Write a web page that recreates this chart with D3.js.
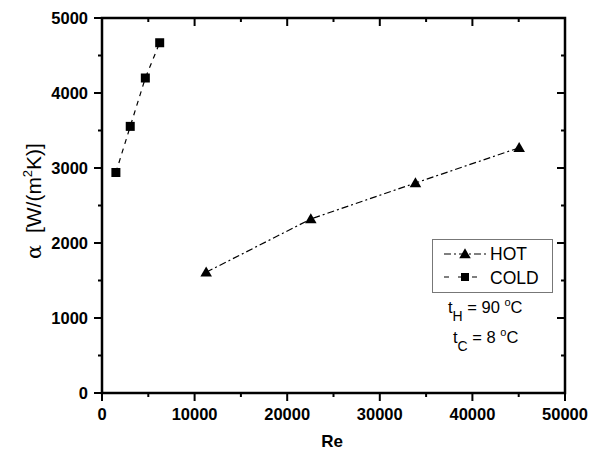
<!DOCTYPE html>
<html>
<head>
<meta charset="utf-8">
<script src="https://cdn.jsdelivr.net/npm/d3@7"></script>
<style>
  body { margin: 0; background: #fff; }
  text { font-family: Arial, "Liberation Sans", sans-serif; }
  .num { font-family: "Liberation Sans Narrow", "Arial Narrow", sans-serif; font-weight: bold; }
</style>
</head>
<body>
<div id="chart"></div>
<script>
// data
var hotRe = [11250, 22550, 33850, 45050];
var hotAlpha = [1610, 2320, 2800, 3270];
var coldRe = [1500, 3050, 4680, 6230];
var coldAlpha = [2940, 3555, 4200, 4670];
var xTicks = [0, 10000, 20000, 30000, 40000, 50000];
var yTicks = [0, 1000, 2000, 3000, 4000, 5000];

var W = 591, H = 454;
var m = { left: 102, right: 26, top: 18, bottom: 61 };

var svg = d3.select("#chart").append("svg").attr("width", W).attr("height", H);

var x = d3.scaleLinear().domain([0, 50000]).range([m.left, W - m.right]);
var y = d3.scaleLinear().domain([0, 5000]).range([H - m.bottom, m.top]);

var minorX = d3.range(0, 50001, 5000).filter(v => v % 10000 !== 0);
var minorY = d3.range(0, 5001, 500).filter(v => v % 1000 !== 0);

// ticks: bottom/left outward, top/right inward
var g = svg.append("g").attr("stroke", "#000").attr("stroke-width", 2);
xTicks.forEach(v => {
    g.append("line").attr("x1", x(v)).attr("x2", x(v)).attr("y1", y(0)).attr("y2", y(0) + 8);
    g.append("line").attr("x1", x(v)).attr("x2", x(v)).attr("y1", y(5000)).attr("y2", y(5000) + 8);
});
minorX.forEach(v => {
    g.append("line").attr("x1", x(v)).attr("x2", x(v)).attr("y1", y(0)).attr("y2", y(0) + 4);
    g.append("line").attr("x1", x(v)).attr("x2", x(v)).attr("y1", y(5000)).attr("y2", y(5000) + 4);
});
yTicks.forEach(v => {
    g.append("line").attr("y1", y(v)).attr("y2", y(v)).attr("x1", x(0)).attr("x2", x(0) - 8);
    g.append("line").attr("y1", y(v)).attr("y2", y(v)).attr("x1", x(50000)).attr("x2", x(50000) - 8);
});
minorY.forEach(v => {
    g.append("line").attr("y1", y(v)).attr("y2", y(v)).attr("x1", x(0)).attr("x2", x(0) - 4);
    g.append("line").attr("y1", y(v)).attr("y2", y(v)).attr("x1", x(50000)).attr("x2", x(50000) - 4);
});

svg.append("rect")
    .attr("x", x(0)).attr("y", y(5000))
    .attr("width", x(50000) - x(0)).attr("height", y(0) - y(5000))
    .attr("fill", "none").attr("stroke", "#000").attr("stroke-width", 2.5);

// tick labels
svg.append("g").selectAll("text").data(xTicks).join("text")
    .attr("class", "num")
    .attr("x", d => x(d)).attr("y", y(0) + 26.5)
    .attr("text-anchor", "middle").attr("font-size", 16.5)
    .text(d => d);
svg.append("g").selectAll("text").data(yTicks).join("text")
    .attr("class", "num")
    .attr("x", x(0) - 14).attr("y", d => y(d) + 5.5)
    .attr("text-anchor", "end").attr("font-size", 16.5)
    .text(d => d);

// axis titles
svg.append("text").attr("x", 332).attr("y", 446.5)
    .attr("text-anchor", "middle").attr("font-size", 17).attr("font-weight", "bold").text("Re");

var yl = svg.append("text").attr("transform", "translate(41," + 201 + ") rotate(-90)")
    .attr("text-anchor", "middle").attr("font-size", 21);
yl.append("tspan").attr("font-family", "DejaVu Serif, serif").text("α");
yl.append("tspan").text("\u00a0 [W/(m");
yl.append("tspan").attr("font-size", 13).attr("dy", -9).text("2");
yl.append("tspan").attr("dy", 9).text("K)]");

// series
var line = d3.line().x(d => x(d[0])).y(d => y(d[1]));
var hot = hotRe.map((v, i) => [v, hotAlpha[i]]);
var cold = coldRe.map((v, i) => [v, coldAlpha[i]]);

svg.append("path").datum(hot).attr("d", line)
    .attr("fill", "none").attr("stroke", "#000").attr("stroke-width", 1.2)
    .attr("stroke-dasharray", "7,3,2,3");
svg.append("path").datum(cold).attr("d", line)
    .attr("fill", "none").attr("stroke", "#000").attr("stroke-width", 1.2)
    .attr("stroke-dasharray", "5,5");

var tri = d3.symbol().type(d3.symbolTriangle).size(58);
svg.append("g").selectAll("path").data(hot).join("path")
    .attr("d", tri).attr("transform", d => "translate(" + x(d[0]) + "," + (y(d[1]) + 1) + ")")
    .attr("fill", "#000");
svg.append("g").selectAll("rect").data(cold).join("rect")
    .attr("x", d => x(d[0]) - 4.5).attr("y", d => y(d[1]) - 4.5)
    .attr("width", 9).attr("height", 9).attr("fill", "#000");

// legend
var lg = svg.append("g");
lg.append("rect").attr("x", 432.5).attr("y", 239.5).attr("width", 120).attr("height", 53)
    .attr("fill", "#fff").attr("stroke", "#777").attr("stroke-width", 1);
lg.append("line").attr("x1", 444).attr("x2", 486).attr("y1", 254).attr("y2", 254)
    .attr("stroke", "#000").attr("stroke-width", 1.2).attr("stroke-dasharray", "7,3,2,3");
lg.append("path").attr("d", tri).attr("transform", "translate(465,255)");
lg.append("line").attr("x1", 444).attr("x2", 486).attr("y1", 277).attr("y2", 277)
    .attr("stroke", "#000").attr("stroke-width", 1.2).attr("stroke-dasharray", "5,9");
lg.append("rect").attr("x", 461).attr("y", 273).attr("width", 8).attr("height", 8);
lg.append("text").attr("x", 490).attr("y", 260).attr("font-size", 17.5).text("HOT");
lg.append("text").attr("x", 490).attr("y", 283.5).attr("font-size", 17.5).text("COLD");

// temperatures
function temp(xp, yp, sub, val) {
    var t = svg.append("text").attr("x", xp).attr("y", yp).attr("font-size", 16.5);
    t.append("tspan").text("t");
    t.append("tspan").attr("dy", 8).attr("font-size", 14).text(sub);
    t.append("tspan").attr("dy", -8).text(" = " + val + " ");
    t.append("tspan").attr("dy", -7).attr("font-size", 11).text("o");
    t.append("tspan").attr("dy", 7).text("C");
}
temp(448, 313, "H", "90");
temp(453, 343, "C", "8");
</script>
</body>
</html>
